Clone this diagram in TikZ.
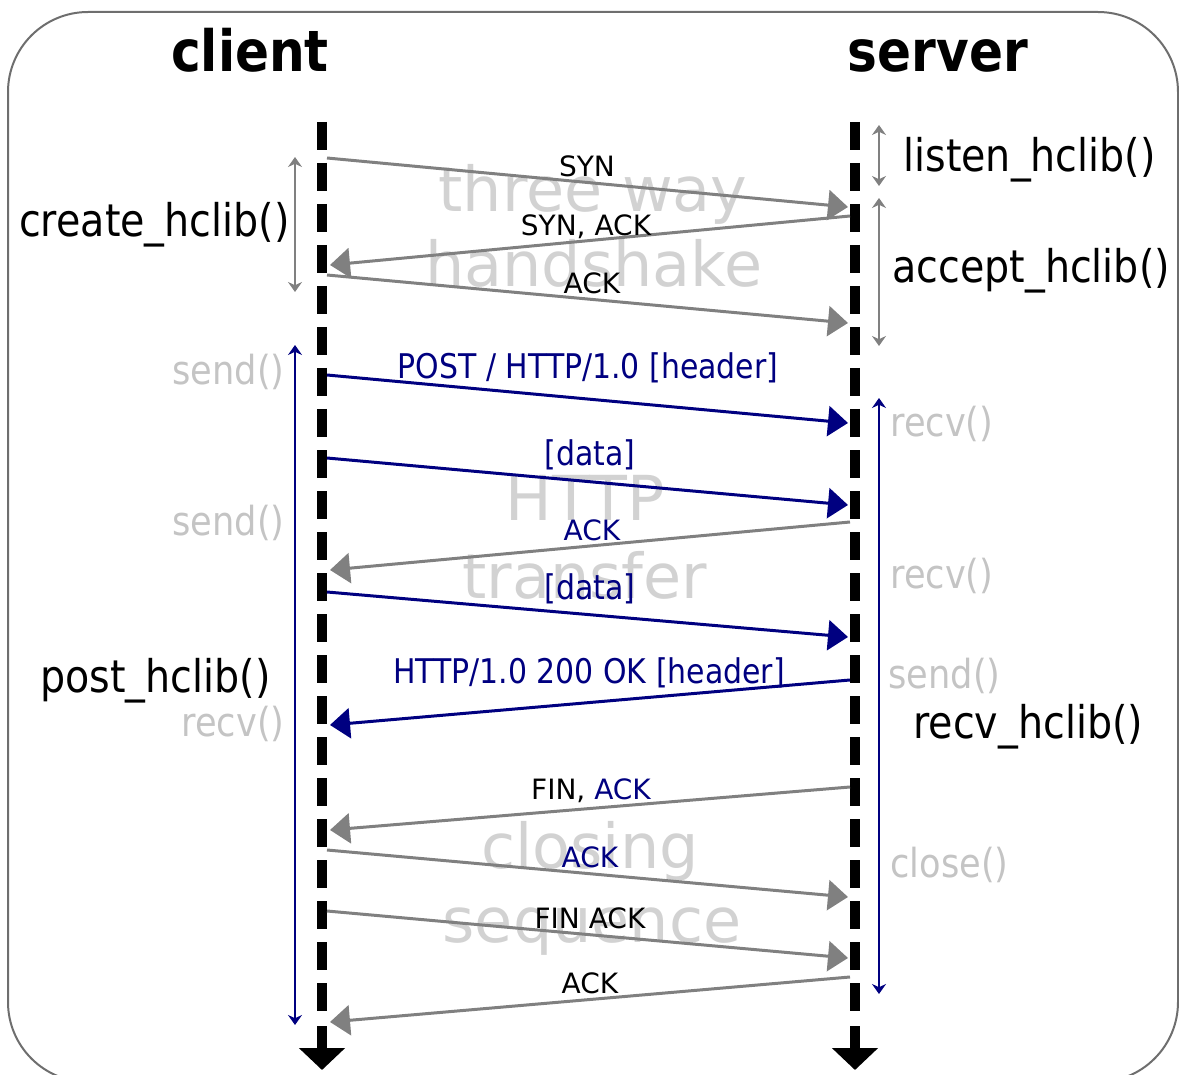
\documentclass[tikz,border=0pt]{standalone}
\usepackage{fontspec}
\setmainfont{DejaVu Sans}
\newfontfamily\cnd[FakeStretch=0.88]{DejaVu Sans}
\usetikzlibrary{arrows.meta}
\definecolor{navy}{HTML}{000080}
\definecolor{msggray}{HTML}{808080}
\definecolor{lightlbl}{HTML}{C4C4C4}
\definecolor{wm}{HTML}{D2D2D2}
\definecolor{frame}{HTML}{6E6E6E}
\tikzset{
  life/.style={line width=5pt, dash pattern=on 14pt off 6.5pt},
  lifeend/.style={line width=5pt, -{Triangle[length=11pt,width=22.5pt]}},
  msg/.style={line width=1.5pt, draw=msggray, -{Triangle[length=10pt,width=15pt]}},
  msgblue/.style={msg, draw=navy},
  span/.style={line width=1pt, draw=msggray, {Stealth[length=5pt,width=7pt]}-{Stealth[length=5pt,width=7pt]}},
  spanblue/.style={span, draw=navy, line width=1.2pt},
  lbl/.style={anchor=base, inner sep=0pt, font=\fontsize{14}{14}\selectfont},
  lblblue/.style={anchor=base, inner sep=0pt, text=navy, font=\cnd\fontsize{17}{17}\selectfont},
  wmark/.style={anchor=base, inner sep=0pt, text=wm, font=\fontsize{31}{31}\selectfont},
  big/.style={inner sep=0pt, font=\cnd\fontsize{22.5}{22.5}\selectfont},
  call/.style={inner sep=0pt, text=lightlbl, font=\cnd\fontsize{20}{20}\selectfont},
  heading/.style={anchor=base, inner sep=0pt, font=\cnd\bfseries\fontsize{28.5}{28.5}\selectfont},
}
\begin{document}
\begin{tikzpicture}[x=0.5pt,y=-0.5pt]
\useasboundingbox (0,0) rectangle (1179,1075);
\begin{scope}
\clip (0,0) rectangle (1179,1075);
\draw[frame, line width=1pt, rounded corners=40pt] (8,12) rectangle (1178,1082);
\end{scope}

% watermarks
\node[wmark] (w1) at (593,212) {three way};
\node[wmark] (w2) at (594,287) {handshake};
\node[wmark] (w3) at (585,520) {HTTP};
\node[wmark] (w4) at (585,598) {transfer};
\node[wmark] (w5) at (590,868) {closing};
\node[wmark] (w6) at (592,942) {sequence};

% headings
\node[heading] (client) at (250,72) {client};
\node[heading] (server) at (938,72) {server};

% lifelines
\coordinate (cTop) at (322,122);
\coordinate (cDash) at (322,1012);
\coordinate (cStem) at (322,1026);
\coordinate (cEnd) at (322,1070);
\coordinate (sTop) at (855,122);
\coordinate (sDash) at (855,1012);
\coordinate (sStem) at (855,1026);
\coordinate (sEnd) at (855,1070);
\draw[life] (cTop) -- (cDash);
\draw[life] (sTop) -- (sDash);
\draw[lifeend] (cStem) -- (cEnd);
\draw[lifeend] (sStem) -- (sEnd);

% spans
\coordinate (crA) at (295,157); \coordinate (crB) at (295,292);
\coordinate (liA) at (879,125); \coordinate (liB) at (879,186);
\coordinate (acA) at (879,198); \coordinate (acB) at (879,346);
\coordinate (poA) at (295,345); \coordinate (poB) at (295,1025);
\coordinate (reA) at (879,398); \coordinate (reB) at (879,994);
\draw[span] (crA) -- (crB);
\draw[span] (liA) -- (liB);
\draw[span] (acA) -- (acB);
\draw[spanblue] (poA) -- (poB);
\draw[spanblue] (reA) -- (reB);

% function labels
\node[big, anchor=base east] (create) at (290,237) {create\_hclib()};
\node[big, anchor=base west] (listen) at (903,172) {listen\_hclib()};
\node[big, anchor=base west] (accept) at (892,283) {accept\_hclib()};
\node[big, anchor=base west] (post) at (40,692) {post\_hclib()};
\node[big, anchor=base west] (recvh) at (913,738) {recv\_hclib()};

\node[call, anchor=base east] (cs1) at (285,385) {send()};
\node[call, anchor=base east] (cs2) at (285,535) {send()};
\node[call, anchor=base east] (cr1) at (285,736) {recv()};
\node[call, anchor=base west] (sr1) at (890,437) {recv()};
\node[call, anchor=base west] (sr2) at (890,588) {recv()};
\node[call, anchor=base west] (ss1) at (888,688) {send()};
\node[call, anchor=base west] (sc1) at (890,877) {close()};

% message end points
\coordinate (c1) at (327,158);  \coordinate (s1) at (848,207);
\coordinate (s2) at (850,216);  \coordinate (c2) at (330,265);
\coordinate (c3) at (327,275);  \coordinate (s3) at (848,323);
\coordinate (c4) at (327,375);  \coordinate (s4) at (848,423);
\coordinate (c5) at (327,458);  \coordinate (s5) at (848,505);
\coordinate (s6) at (850,522);  \coordinate (c6) at (330,570);
\coordinate (c7) at (327,592);  \coordinate (s7) at (848,637);
\coordinate (s8) at (850,680);  \coordinate (c8) at (330,725);
\coordinate (s9) at (850,787);  \coordinate (c9) at (330,830);
\coordinate (c10) at (327,850); \coordinate (s10) at (848,897);
\coordinate (c11) at (327,911); \coordinate (s11) at (848,958);
\coordinate (s12) at (850,977); \coordinate (c12) at (330,1022);

\draw[msg] (c1) -- (s1);
\draw[msg] (s2) -- (c2);
\draw[msg] (c3) -- (s3);
\draw[msgblue] (c4) -- (s4);
\draw[msgblue] (c5) -- (s5);
\draw[msg] (s6) -- (c6);
\draw[msgblue] (c7) -- (s7);
\draw[msgblue] (s8) -- (c8);
\draw[msg] (s9) -- (c9);
\draw[msg] (c10) -- (s10);
\draw[msg] (c11) -- (s11);
\draw[msg] (s12) -- (c12);

% message labels
\node[lbl] (l1) at (587,177) {SYN};
\node[lbl] (l2) at (586,236) {SYN, ACK};
\node[lbl] (l3) at (592,294) {ACK};
\node[lblblue] (l4) at (588,379) {POST / HTTP/1.0 [header]};
\node[lblblue] (l5) at (590,466) {[data]};
\node[lbl, text=navy] (l6) at (592,540) {ACK};
\node[lblblue] (l7) at (590,599) {[data]};
\node[lblblue] (l8) at (589,683) {HTTP/1.0 200 OK [header]};
\node[lbl] (l9) at (591,799) {FIN, \textcolor{navy}{ACK}};
\node[lbl, text=navy] (l10) at (590,867) {ACK};
\node[lbl] (l11) at (590,928) {FIN ACK};
\node[lbl] (l12) at (590,993) {ACK};
\end{tikzpicture}
\end{document}
